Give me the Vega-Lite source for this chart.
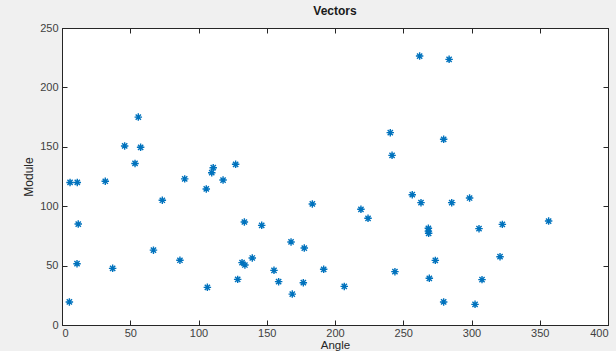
{
  "$schema": "https://vega.github.io/schema/vega-lite/v6.json",
  "autosize": {"type": "none"},
  "width": 546,
  "height": 297,
  "padding": {"left": 62, "top": 28, "right": 8, "bottom": 26},
  "background": "#f0f0f0",
  "title": {"text": "Vectors", "fontSize": 12, "fontWeight": "bold", "font": "Liberation Sans", "color": "#1a1a1a", "offset": 4, "anchor": "middle"},
  "config": {
    "view": {"fill": "white", "stroke": "#262626", "strokeWidth": 1},
    "axis": {"grid": false, "domainColor": "#262626", "tickColor": "#262626", "labelColor": "#404040", "titleColor": "#262626", "labelFont": "Liberation Sans", "titleFont": "Liberation Sans", "labelFontSize": 11, "titleFontSize": 12, "titleFontWeight": "normal", "tickSize": -5, "labelPadding": 9}
  },
  "data": {"values": [
    {"angle": 5.4, "module": 19.4}, {"angle": 5.9, "module": 120}, {"angle": 11.2, "module": 120}, {"angle": 11.9, "module": 85},
    {"angle": 11, "module": 51.6}, {"angle": 31.7, "module": 121}, {"angle": 37.1, "module": 47.7}, {"angle": 45.9, "module": 150.7},
    {"angle": 53.5, "module": 136}, {"angle": 55.9, "module": 175}, {"angle": 57.6, "module": 149.6}, {"angle": 67, "module": 63},
    {"angle": 73.5, "module": 105}, {"angle": 86.4, "module": 54.5}, {"angle": 89.9, "module": 123}, {"angle": 105.7, "module": 114.5},
    {"angle": 106.5, "module": 31.7}, {"angle": 109.7, "module": 128.2}, {"angle": 110.8, "module": 132.4}, {"angle": 118, "module": 122},
    {"angle": 127.2, "module": 135.3}, {"angle": 128.7, "module": 38.4}, {"angle": 133.6, "module": 86.7}, {"angle": 131.9, "module": 52.5},
    {"angle": 134, "module": 50.5}, {"angle": 139.4, "module": 56.4}, {"angle": 146.3, "module": 83.9}, {"angle": 155.3, "module": 46},
    {"angle": 158.7, "module": 36.5}, {"angle": 167.8, "module": 69.9}, {"angle": 168.7, "module": 26}, {"angle": 177.5, "module": 64.8},
    {"angle": 176.8, "module": 35.6}, {"angle": 183.4, "module": 101.9}, {"angle": 191.7, "module": 46.9}, {"angle": 206.8, "module": 32.5},
    {"angle": 219, "module": 97.4}, {"angle": 224.2, "module": 89.8}, {"angle": 240.5, "module": 161.9}, {"angle": 241.8, "module": 142.8},
    {"angle": 243.9, "module": 44.9}, {"angle": 256.6, "module": 109.7}, {"angle": 263, "module": 103}, {"angle": 262, "module": 226.4},
    {"angle": 283.6, "module": 223.6}, {"angle": 279.6, "module": 156.3}, {"angle": 285.5, "module": 103}, {"angle": 298.6, "module": 106.9},
    {"angle": 268.4, "module": 81.4}, {"angle": 268.4, "module": 79}, {"angle": 268.6, "module": 77.2}, {"angle": 305.5, "module": 81.1},
    {"angle": 322.6, "module": 84.7}, {"angle": 356.5, "module": 87.5}, {"angle": 273.5, "module": 54.4}, {"angle": 320.9, "module": 57.5},
    {"angle": 269.1, "module": 39.3}, {"angle": 307.7, "module": 38.2}, {"angle": 279.6, "module": 19.4}, {"angle": 302.6, "module": 17.4}
  ]},
  "layer": [
    {
      "mark": {"type": "point", "shape": "M-1,0L1,0M0,-1L0,1M-0.7,-0.7L0.7,0.7M-0.7,0.7L0.7,-0.7", "filled": false, "stroke": "#0072BD", "strokeWidth": 1.4, "size": 56, "opacity": 1},
      "encoding": {
        "x": {"field": "angle", "type": "quantitative", "title": "Angle", "scale": {"domain": [0, 400], "nice": false}, "axis": {"values": [0, 50, 100, 150, 200, 250, 300, 350, 400], "labelPadding": 7, "titlePadding": 1, "titleFontSize": 11.5}},
        "y": {"field": "module", "type": "quantitative", "title": "Module", "scale": {"domain": [0, 250], "nice": false}, "axis": {"values": [0, 50, 100, 150, 200, 250], "titlePadding": 4}}
      }
    },
    {
      "mark": {"type": "point", "opacity": 0},
      "encoding": {
        "x": {"field": "angle", "type": "quantitative", "axis": {"orient": "top", "labels": false, "title": null, "values": [0, 50, 100, 150, 200, 250, 300, 350, 400]}},
        "y": {"field": "module", "type": "quantitative", "axis": {"orient": "right", "labels": false, "title": null, "values": [0, 50, 100, 150, 200, 250]}}
      }
    }
  ],
  "resolve": {"axis": {"x": "independent", "y": "independent"}}
}
